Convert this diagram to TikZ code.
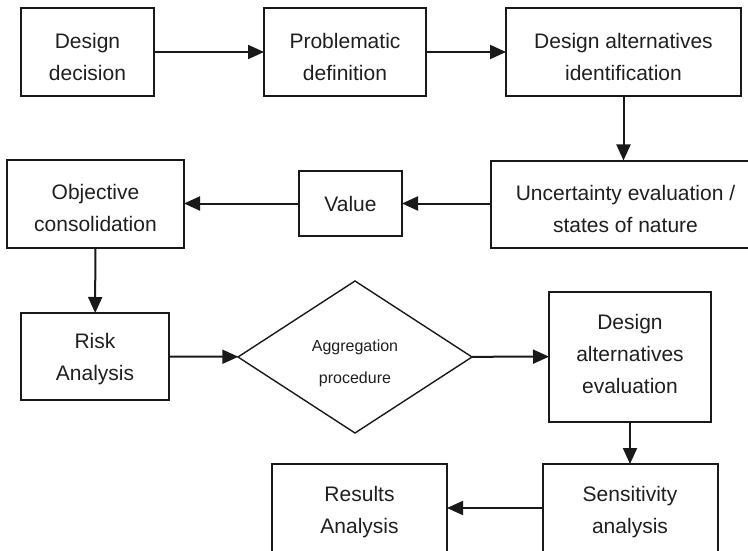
\documentclass[tikz,border=0pt]{standalone}
\usepackage{fontspec}
\setmainfont{Liberation Sans}
\usetikzlibrary{arrows.meta,shapes.geometric}
\begin{document}
\begin{tikzpicture}[x=1pt,y=-1pt,
  every node/.style={inner sep=0pt, outer sep=0pt},
  stage/.style={draw=black!90, line width=2pt},
  choice/.style={draw=black!90, line width=1.4pt, diamond},
  caption/.style={align=center, text=black!88, font=\fontsize{21}{32}\selectfont},
  smallcaption/.style={align=center, text=black!88, font=\fontsize{16}{32}\selectfont},
  flow/.style={draw=black!90, line width=2pt,
    -{Triangle[length=16pt,width=14pt]}}]
\useasboundingbox (0,0) rectangle (748,551);

% first row
\node[stage, minimum width=133pt, minimum height=88pt] (dd)  at (87.5,52)  {};
\node[stage, minimum width=162pt, minimum height=88pt] (pd)  at (345,52)   {};
\node[stage, minimum width=235pt, minimum height=88pt] (dai) at (623.5,52) {};
\node[caption, yshift=-4.5pt] (dd-t)  at (dd)  {Design\\decision};
\node[caption, yshift=-4.5pt] (pd-t)  at (pd)  {Problematic\\definition};
\node[caption, yshift=-4.5pt] (dai-t) at (dai) {Design alternatives\\identification};

% second row (the right box runs past the edge)
\node[stage, minimum width=269pt, minimum height=87pt] (ue)  at (625.5,204)   {};
\node[stage, minimum width=103pt, minimum height=65pt] (val) at (350.5,203.5) {};
\node[stage, minimum width=177pt, minimum height=88pt] (oc)  at (95.5,204)    {};
\node[caption, yshift=-5pt] (ue-t)  at (ue)  {Uncertainty evaluation /\\states of nature};
\node[caption]              (val-t) at (val) {Value};
\node[caption, yshift=-4pt] (oc-t)  at (oc)  {Objective\\consolidation};

% third row
\node[stage, minimum width=148pt, minimum height=87pt]   (ra)  at (95,356.5)  {};
\node[choice, minimum width=234pt, minimum height=152pt] (agg) at (355,357)   {};
\node[stage, minimum width=162pt, minimum height=130pt]  (dae) at (630,356.5) {};
\node[caption, yshift=-2.5pt]     (ra-t)  at (ra)  {Risk\\Analysis};
\node[smallcaption, yshift=-6pt]  (agg-t) at (agg) {Aggregation\\procedure};
\node[caption, yshift=3pt]        (dae-t) at (dae) {Design\\alternatives\\evaluation};

% last row (both boxes run past the bottom edge)
\node[stage, minimum width=175pt, minimum height=96pt] (sa)  at (630,512)   {};
\node[stage, minimum width=175pt, minimum height=96pt] (res) at (359.5,512) {};
\node[caption] (sa-t)  at (sa)  {Sensitivity\\analysis};
\node[caption] (res-t) at (res) {Results\\Analysis};

% connectors
\draw[flow] (dd) -- (pd);
\draw[flow] (pd) -- (dai);
\draw[flow] (dai.south) -- (dai.south |- ue.north);
\draw[flow] (ue.west |- val) -- (val);
\draw[flow] (val) -- (oc.east |- val);
\draw[flow] (oc) -- (ra);
\draw[flow] (ra) -- (agg);
\draw[flow] (agg) -- (dae);
\draw[flow] (dae) -- (sa);
\draw[flow] (sa.west) ++(0,-4) coordinate (sw) -- (sw -| res.east);
\end{tikzpicture}
\end{document}
